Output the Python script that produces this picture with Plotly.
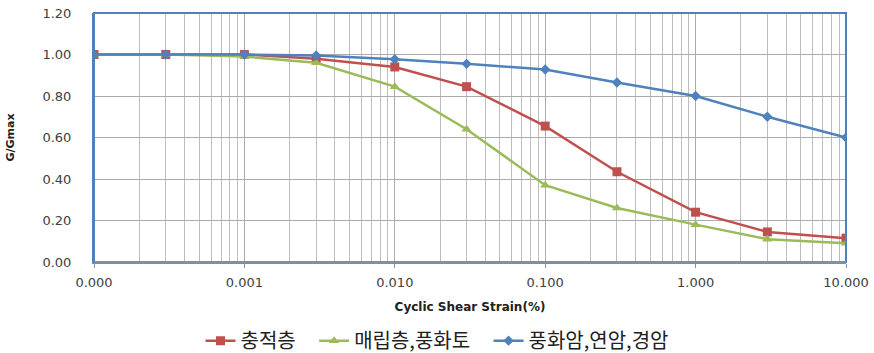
import plotly.graph_objects as go

strain = [0.0001, 0.0003, 0.001, 0.003, 0.01, 0.03, 0.1, 0.3, 1, 3, 10]
alluvium = [1.00, 1.00, 1.00, 0.98, 0.94, 0.845, 0.655, 0.435, 0.24, 0.145, 0.115]
fill_weathered_soil = [1.00, 1.00, 0.99, 0.96, 0.845, 0.64, 0.37, 0.26, 0.18, 0.11, 0.09]
rock = [1.00, 1.00, 1.00, 0.995, 0.977, 0.955, 0.928, 0.865, 0.80, 0.70, 0.60]

names = ["충적층", "매립층,풍화토", "풍화암,연암,경암"]
xtick_vals = [0.0001, 0.001, 0.01, 0.1, 1, 10]
xtick_text = ["0.000", "0.001", "0.010", "0.100", "1.000", "10.000"]
minor_vals = [m * 10 ** e for e in range(-4, 1) for m in range(2, 10)]

pad = "\u00a0" * 3

fig = go.Figure()
fig.add_trace(go.Scatter(x=strain, y=alluvium, name=names[0] + pad, mode="lines+markers",
                         line=dict(color="#C0504D", width=2.5),
                         marker=dict(symbol="square", size=9, color="#C0504D")))
fig.add_trace(go.Scatter(x=strain, y=fill_weathered_soil, name=names[1] + pad, mode="lines+markers",
                         line=dict(color="#9BBB59", width=2.5),
                         marker=dict(symbol="triangle-up", size=9, color="#9BBB59")))
fig.add_trace(go.Scatter(x=strain, y=rock, name=names[2], mode="lines+markers",
                         line=dict(color="#4F81BD", width=2.5),
                         marker=dict(symbol="diamond", size=8, color="#4F81BD")))

fig.update_layout(
    width=874, height=353,
    margin=dict(l=94, r=28, t=13, b=91),
    paper_bgcolor="white", plot_bgcolor="white",
    font=dict(family="DejaVu Sans, Liberation Sans, sans-serif", size=13, color="#404040"),
    legend=dict(orientation="h", xref="container", yref="container",
                x=0.5, xanchor="center", y=0.035, yanchor="middle",
                font=dict(family="Noto Sans CJK KR", size=20, color="#202020"),
                traceorder="normal"),
    xaxis=dict(type="log", range=[-4, 1], tickvals=xtick_vals, ticktext=xtick_text,
               automargin=False,
               showgrid=True, gridcolor="#ABABAB", gridwidth=1,
               minor=dict(tickvals=minor_vals, showgrid=True, gridcolor="#BDBDBD", gridwidth=1, ticks=""),
               ticks="outside", ticklen=4, tickcolor="#7F8FA0", ticklabelstandoff=3,
               showline=True, linecolor="#7F8FA0", linewidth=2, mirror=False,
               title=dict(text="<b>Cyclic Shear Strain(%)</b>", font=dict(size=12, color="#202020"), standoff=14),
               zeroline=False),
    yaxis=dict(range=[0, 1.2], dtick=0.2, tickformat=".2f",
               automargin=False, ticklabelstandoff=18,
               showgrid=True, gridcolor="#ABABAB", gridwidth=1,
               showline=True, linecolor="#4F81BD", linewidth=2, mirror=False,
               ticks="", title=dict(text="<b>G/Gmax</b>", font=dict(size=11, color="#202020"), standoff=26),
               zeroline=False),
)
fig.add_shape(type="rect", xref="paper", yref="paper", x0=0, y0=0, x1=1, y1=1,
              line=dict(color="#4F81BD", width=2), layer="above")
fig.add_shape(type="line", xref="paper", yref="paper", x0=0, y0=0, x1=1, y1=0,
              line=dict(color="#7F8FA0", width=2), layer="above")

fig.write_html("out.html", config={"displayModeBar": False},
               post_script="document.body.style.margin='0';document.body.style.overflow='hidden';")
